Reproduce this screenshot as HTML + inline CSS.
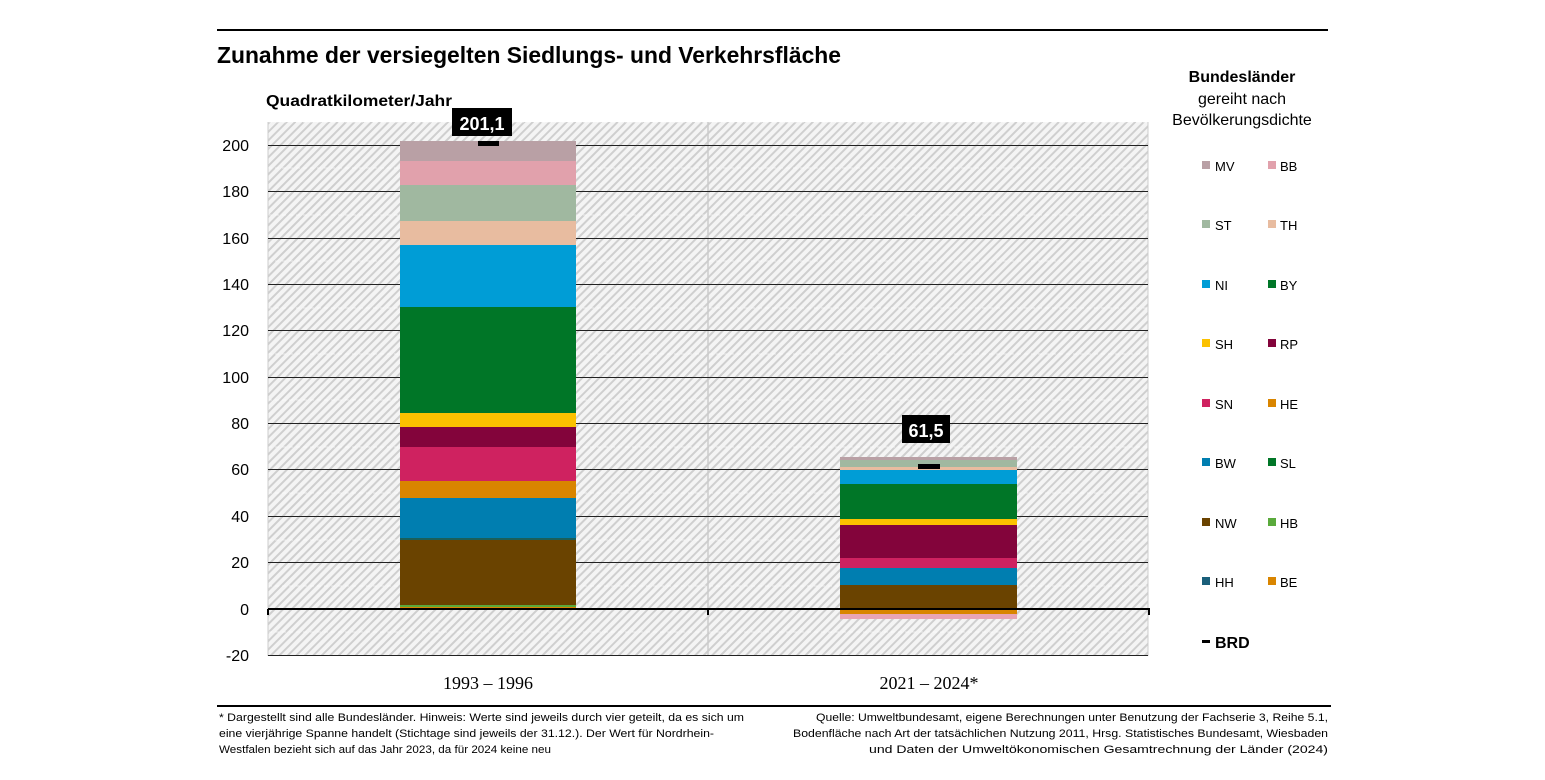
<!DOCTYPE html>
<html><head><meta charset="utf-8"><style>
body{margin:0;background:#fff;}
svg text{font-family:"Liberation Sans",sans-serif;}
</style></head><body>
<svg width="1545" height="775" viewBox="0 0 1545 775" xmlns="http://www.w3.org/2000/svg">
<defs>
<pattern id="h" width="6" height="6" patternUnits="userSpaceOnUse" patternTransform="rotate(45)">
<rect width="6" height="6" fill="#f4f4f4"/><rect width="2" height="6" fill="#cfcfcf"/>
</pattern>
</defs>
<line x1="217" y1="30" x2="1328" y2="30" stroke="#000" stroke-width="2"/>
<text x="217" y="63" font-size="23" font-weight="bold" textLength="624" lengthAdjust="spacingAndGlyphs">Zunahme der versiegelten Siedlungs- und Verkehrsfläche</text>
<text x="266" y="106" font-size="16" font-weight="bold" textLength="186" lengthAdjust="spacingAndGlyphs">Quadratkilometer/Jahr</text>
<rect x="268" y="122" width="880" height="534" fill="url(#h)"/>
<g stroke="#fff" stroke-width="1" stroke-dasharray="4,3" opacity="0.6">
<line x1="268" y1="632" x2="1148" y2="632"/><line x1="268" y1="586" x2="1148" y2="586"/><line x1="268" y1="540" x2="1148" y2="540"/><line x1="268" y1="493" x2="1148" y2="493"/><line x1="268" y1="447" x2="1148" y2="447"/><line x1="268" y1="400" x2="1148" y2="400"/><line x1="268" y1="354" x2="1148" y2="354"/><line x1="268" y1="308" x2="1148" y2="308"/><line x1="268" y1="261" x2="1148" y2="261"/><line x1="268" y1="215" x2="1148" y2="215"/><line x1="268" y1="168" x2="1148" y2="168"/><line x1="268" y1="122" x2="1148" y2="122"/>
</g>
<line x1="708" y1="122" x2="708" y2="656" stroke="#ccc" stroke-width="1.5"/>
<line x1="268" y1="122" x2="268" y2="656" stroke="#ccc"/>
<line x1="1148" y1="122" x2="1148" y2="656" stroke="#ccc"/>
<g stroke="#222" stroke-width="1">
<line x1="268" y1="655.5" x2="1148" y2="655.5"/><line x1="268" y1="562.5" x2="1148" y2="562.5"/><line x1="268" y1="516.5" x2="1148" y2="516.5"/><line x1="268" y1="469.5" x2="1148" y2="469.5"/><line x1="268" y1="423.5" x2="1148" y2="423.5"/><line x1="268" y1="377.5" x2="1148" y2="377.5"/><line x1="268" y1="330.5" x2="1148" y2="330.5"/><line x1="268" y1="284.5" x2="1148" y2="284.5"/><line x1="268" y1="238.5" x2="1148" y2="238.5"/><line x1="268" y1="191.5" x2="1148" y2="191.5"/><line x1="268" y1="145.5" x2="1148" y2="145.5"/>
</g>
<!-- bar 1 -->
<rect x="400" y="540" width="176" height="67" fill="#6a4300"/>
<rect x="400" y="605" width="176" height="2" fill="#5aaa3c"/>
<rect x="400" y="607" width="176" height="3" fill="#d98500"/>
<rect x="400" y="538" width="176" height="2" fill="#1a5f5a"/>
<rect x="400" y="498" width="176" height="40" fill="#007eb0"/>
<rect x="400" y="481" width="176" height="17" fill="#d98500"/>
<rect x="400" y="447" width="176" height="34" fill="#cf2260"/>
<rect x="400" y="427" width="176" height="20" fill="#83043b"/>
<rect x="400" y="413" width="176" height="14" fill="#fbc100"/>
<rect x="400" y="307" width="176" height="106" fill="#007627"/>
<rect x="400" y="245" width="176" height="62" fill="#009dd6"/>
<rect x="400" y="221" width="176" height="24" fill="#e8bca0"/>
<rect x="400" y="185" width="176" height="36" fill="#a0b8a0"/>
<rect x="400" y="161" width="176" height="24" fill="#e1a1ac"/>
<rect x="400" y="141" width="176" height="20" fill="#b9a0a5"/>
<rect x="478" y="141" width="21" height="5" fill="#000"/>
<rect x="452" y="108" width="60" height="28" fill="#000"/>
<text x="482" y="130" font-size="18" font-weight="bold" fill="#fff" text-anchor="middle">201,1</text>
<!-- bar 2 -->
<rect x="840" y="585" width="177" height="24" fill="#6a4300"/>
<rect x="840" y="609" width="177" height="5" fill="#d98500"/>
<rect x="840" y="614" width="177" height="5" fill="#e8a5b5"/>
<rect x="840" y="568" width="177" height="17" fill="#007eb0"/>
<rect x="840" y="558" width="177" height="10" fill="#cf2260"/>
<rect x="840" y="525" width="177" height="33" fill="#83043b"/>
<rect x="840" y="519" width="177" height="6" fill="#fbc100"/>
<rect x="840" y="484" width="177" height="35" fill="#007627"/>
<rect x="840" y="470" width="177" height="14" fill="#009dd6"/>
<rect x="840" y="467" width="177" height="3" fill="#e8bca0"/>
<rect x="840" y="460" width="177" height="7" fill="#a0b8a0"/>
<rect x="840" y="457" width="177" height="3" fill="#b9a0a5"/>
<rect x="918" y="464" width="22" height="5" fill="#000"/>
<rect x="902" y="415" width="48" height="28" fill="#000"/>
<text x="926" y="437" font-size="18" font-weight="bold" fill="#fff" text-anchor="middle">61,5</text>
<!-- axis -->
<line x1="268" y1="609" x2="1150" y2="609" stroke="#000" stroke-width="2"/>
<line x1="268" y1="609" x2="268" y2="615" stroke="#000" stroke-width="2"/>
<line x1="708" y1="609" x2="708" y2="615" stroke="#000" stroke-width="2"/>
<line x1="1149" y1="609" x2="1149" y2="615" stroke="#000" stroke-width="2"/>
<g font-size="16" text-anchor="end">
<text x="249" y="151">200</text><text x="249" y="197">180</text><text x="249" y="244">160</text><text x="249" y="290">140</text><text x="249" y="336">120</text><text x="249" y="383">100</text><text x="249" y="429">80</text><text x="249" y="475">60</text><text x="249" y="522">40</text><text x="249" y="568">20</text><text x="249" y="615">0</text><text x="249" y="661">-20</text>
</g>
<text x="488" y="689" font-size="18" text-anchor="middle" style="font-family:'Liberation Serif',serif">1993 – 1996</text>
<text x="929" y="689" font-size="18" text-anchor="middle" style="font-family:'Liberation Serif',serif">2021 – 2024*</text>
<!-- legend -->
<text x="1242" y="82" font-size="16" font-weight="bold" text-anchor="middle">Bundesländer</text>
<text x="1242" y="104" font-size="16" text-anchor="middle">gereiht nach</text>
<text x="1242" y="125" font-size="16" text-anchor="middle">Bevölkerungsdichte</text>
<g font-size="13">
<rect x="1202" y="161" width="8" height="8" fill="#b9a0a5"/><text x="1215" y="171">MV</text>
<rect x="1268" y="161" width="8" height="8" fill="#e1a1ac"/><text x="1280" y="171">BB</text>
<rect x="1202" y="220" width="8" height="8" fill="#a0b8a0"/><text x="1215" y="230">ST</text>
<rect x="1268" y="220" width="8" height="8" fill="#e8bca0"/><text x="1280" y="230">TH</text>
<rect x="1202" y="280" width="8" height="8" fill="#009dd6"/><text x="1215" y="290">NI</text>
<rect x="1268" y="280" width="8" height="8" fill="#007627"/><text x="1280" y="290">BY</text>
<rect x="1202" y="339" width="8" height="8" fill="#fbc100"/><text x="1215" y="349">SH</text>
<rect x="1268" y="339" width="8" height="8" fill="#83043b"/><text x="1280" y="349">RP</text>
<rect x="1202" y="399" width="8" height="8" fill="#cf2260"/><text x="1215" y="409">SN</text>
<rect x="1268" y="399" width="8" height="8" fill="#d98500"/><text x="1280" y="409">HE</text>
<rect x="1202" y="458" width="8" height="8" fill="#007eb0"/><text x="1215" y="468">BW</text>
<rect x="1268" y="458" width="8" height="8" fill="#007627"/><text x="1280" y="468">SL</text>
<rect x="1202" y="518" width="8" height="8" fill="#6a4300"/><text x="1215" y="528">NW</text>
<rect x="1268" y="518" width="8" height="8" fill="#5aaa3c"/><text x="1280" y="528">HB</text>
<rect x="1202" y="577" width="8" height="8" fill="#1a5f7a"/><text x="1215" y="587">HH</text>
<rect x="1268" y="577" width="8" height="8" fill="#d98500"/><text x="1280" y="587">BE</text>
</g>
<rect x="1202" y="640" width="8" height="3" fill="#000"/>
<text x="1215" y="648" font-size="16" font-weight="bold">BRD</text>
<!-- footer -->
<line x1="217" y1="706" x2="1331" y2="706" stroke="#000" stroke-width="2"/>
<g font-size="11">
<text x="219" y="721" textLength="525" lengthAdjust="spacingAndGlyphs">* Dargestellt sind alle Bundesländer. Hinweis: Werte sind jeweils durch vier geteilt, da es sich um</text>
<text x="219" y="737" textLength="495" lengthAdjust="spacingAndGlyphs">eine vierjährige Spanne handelt (Stichtage sind jeweils der 31.12.). Der Wert für Nordrhein-</text>
<text x="219" y="753" textLength="332" lengthAdjust="spacingAndGlyphs">Westfalen bezieht sich auf das Jahr 2023, da für 2024 keine neu</text>
<text x="1328" y="721" text-anchor="end" textLength="512" lengthAdjust="spacingAndGlyphs">Quelle: Umweltbundesamt, eigene Berechnungen unter Benutzung der Fachserie 3, Reihe 5.1,</text>
<text x="1328" y="737" text-anchor="end" textLength="535" lengthAdjust="spacingAndGlyphs">Bodenfläche nach Art der tatsächlichen Nutzung 2011, Hrsg. Statistisches Bundesamt, Wiesbaden</text>
<text x="1328" y="753" text-anchor="end" textLength="459" lengthAdjust="spacingAndGlyphs">und Daten der Umweltökonomischen Gesamtrechnung der Länder (2024)</text>
</g>
</svg>
</body></html>
